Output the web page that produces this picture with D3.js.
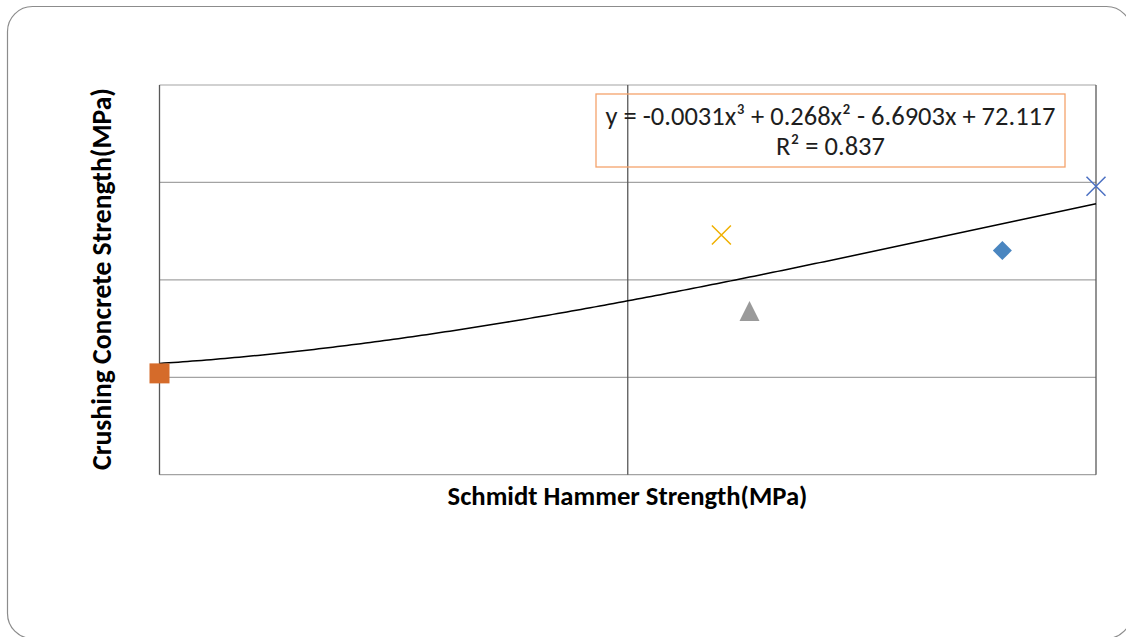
<!DOCTYPE html>
<html>
<head>
<meta charset="utf-8">
<script src="https://cdn.jsdelivr.net/npm/d3@7/dist/d3.min.js"></script>
<style>
  html, body { margin: 0; padding: 0; background: #fff; }
  svg { display: block; }
</style>
</head>
<body>
<svg id="chart"></svg>
<script>
// points, in Excel series order
var schmidt  = [29.0, 20.0, 26.3, 26.0, 30.0];
var crushing = [26.5, 20.2, 23.4, 27.3, 29.8];
var shapes   = ["diamond", "square", "triangle", "x", "x"];
var colors   = ["#4a86c0", "#d56b2a", "#9a9a9a", "#f0b000", "#4a6fc2"];

// cubic trendline, as printed on the chart
var coef = [72.117, -6.6903, 0.268, -0.0031];
var eqLines = ["y = -0.0031x\u00b3 + 0.268x\u00b2 - 6.6903x + 72.117", "R\u00b2 = 0.837"];

var xDomain = [20, 30];
var yDomain = [15, 35];
var xTicks = [20, 25, 30];
var yTicks = [15, 20, 25, 30, 35];

var xTitle = "Schmidt Hammer Strength(MPa)";
var yTitle = "Crushing Concrete Strength(MPa)";

var width = 1126, height = 637;
var font = "Carlito, Calibri, 'Open Sans', sans-serif";

var svg = d3.select("#chart").attr("width", width).attr("height", height);

// outer chart border
svg.append("rect")
    .attr("x", 7.5).attr("y", 6.5)
    .attr("width", 1124).attr("height", 632)
    .attr("rx", 25).attr("ry", 25)
    .attr("fill", "none")
    .attr("stroke", "#8c8c8c")
    .attr("stroke-width", 1.2);

var plot = {left: 159.5, top: 85, right: 1096, bottom: 474.7};

var x = d3.scaleLinear().domain(xDomain).range([plot.left, plot.right]);
var y = d3.scaleLinear().domain(yDomain).range([plot.bottom, plot.top]);

var g = svg.append("g");

// horizontal gridlines (light)
g.append("g").selectAll("line")
    .data(yTicks)
    .enter().append("line")
    .attr("x1", plot.left).attr("x2", plot.right)
    .attr("y1", function(d) { return y(d); })
    .attr("y2", function(d) { return y(d); })
    .attr("stroke", "#a3a3a3")
    .attr("stroke-width", 1.2);

// vertical lines (dark)
g.append("g").selectAll("line")
    .data(xTicks)
    .enter().append("line")
    .attr("y1", plot.top).attr("y2", plot.bottom)
    .attr("x1", function(d) { return x(d); })
    .attr("x2", function(d) { return x(d); })
    .attr("stroke", "#595959")
    .attr("stroke-width", 1.3);

// trendline
function poly(v) {
    return coef[0] + coef[1] * v + coef[2] * v * v + coef[3] * v * v * v;
}
var trend = d3.range(xDomain[0], xDomain[1] + 0.001, 0.05).map(function(v) {
    return [v, poly(v)];
});
g.append("path")
    .datum(trend)
    .attr("fill", "none")
    .attr("stroke", "#000")
    .attr("stroke-width", 1.5)
    .attr("d", d3.line()
        .x(function(d) { return x(d[0]); })
        .y(function(d) { return y(d[1]); }));

// markers
var pts = schmidt.map(function(v, i) {
    return {x: v, y: crushing[i], shape: shapes[i], color: colors[i]};
});

function markerPath(shape) {
    var h = 10;
    if (shape == "square") return "M" + -h + "," + -h + "H" + h + "V" + h + "H" + -h + "Z";
    if (shape == "diamond") return "M0," + (-h + 0.5) + "L" + (h - 0.5) + ",0L0," + (h - 0.5) + "L" + (-h + 0.5) + ",0Z";
    if (shape == "triangle") return "M0," + -h + "L" + h + "," + h + "L" + -h + "," + h + "Z";
    return "M-9.5,-9.5L9.5,9.5M9.5,-9.5L-9.5,9.5";
}

g.append("g").selectAll("path")
    .data(pts)
    .enter().append("path")
    .attr("transform", function(d) { return "translate(" + x(d.x) + "," + y(d.y) + ")"; })
    .attr("d", function(d) { return markerPath(d.shape); })
    .attr("fill", function(d) { return d.shape == "x" ? "none" : d.color; })
    .attr("stroke", function(d) { return d.color; })
    .attr("stroke-width", function(d) { return d.shape == "x" ? 1.5 : 0; });

// scale a text element so it spans the given width
function fit(sel, w) {
    var cur = sel.node().getComputedTextLength();
    var fs = parseFloat(sel.attr("font-size"));
    sel.attr("font-size", fs * w / cur);
}

// equation label
svg.append("rect")
    .attr("x", 596).attr("y", 94)
    .attr("width", 469).attr("height", 73)
    .attr("fill", "none")
    .attr("stroke", "#f4a36c")
    .attr("stroke-width", 1.3);

var eq1 = svg.append("text")
    .attr("x", 830.5).attr("y", 124.5)
    .attr("text-anchor", "middle")
    .attr("font-family", font)
    .attr("font-size", 22)
    .attr("fill", "#1e1e1e")
    .text(eqLines[0]);
fit(eq1, 450);

svg.append("text")
    .attr("x", 830.5).attr("y", 155)
    .attr("text-anchor", "middle")
    .attr("font-family", font)
    .attr("font-size", eq1.attr("font-size"))
    .attr("fill", "#1e1e1e")
    .text(eqLines[1]);

// axis titles
var xt = svg.append("text")
    .attr("x", 627.5).attr("y", 505)
    .attr("text-anchor", "middle")
    .attr("font-family", font)
    .attr("font-weight", "bold")
    .attr("font-size", 22)
    .attr("fill", "#000")
    .text(xTitle);
fit(xt, 360);

var yt = svg.append("text")
    .attr("transform", "translate(111,279) rotate(-90)")
    .attr("text-anchor", "middle")
    .attr("font-family", font)
    .attr("font-weight", "bold")
    .attr("font-size", 22)
    .attr("fill", "#000")
    .text(yTitle);
fit(yt, 382);
</script>
</body>
</html>
